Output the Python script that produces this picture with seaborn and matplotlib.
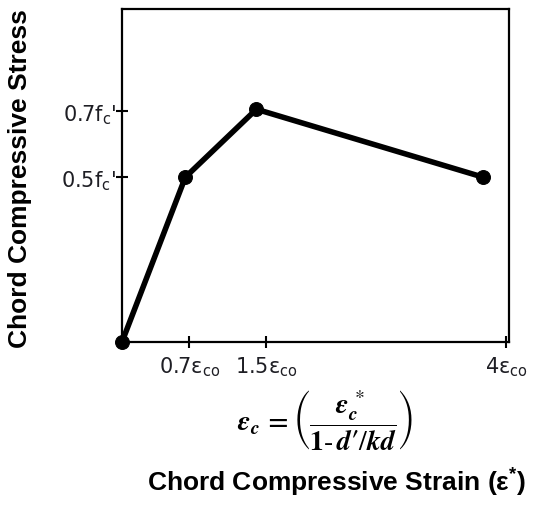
import matplotlib
matplotlib.use("Agg")
import matplotlib.pyplot as plt
import seaborn as sns
import pandas as pd

# Idealised chord stress-strain curve (strain in units of eps_co, stress in units of f'c)
strain = [0.0, 0.66, 1.40, 3.76]
stress = [0.0, 0.50, 0.706, 0.50]

x_ticks = [0.7, 1.5, 4.0]
x_tick_labels = [r"0.7ε$_{\rm co}$", r"1.5ε$_{\rm co}$", r"4ε$_{\rm co}$"]
y_ticks = [0.5, 0.7]
y_tick_labels = [r"0.5f$_{\rm c}$'", r"0.7f$_{\rm c}$'"]

sns.set_theme(style="white")
plt.rcParams["font.family"] = ["Liberation Sans", "DejaVu Sans"]
plt.rcParams["mathtext.fontset"] = "custom"
plt.rcParams["mathtext.rm"] = "Liberation Sans"
plt.rcParams["mathtext.it"] = "Liberation Sans:italic"
plt.rcParams["mathtext.bf"] = "Liberation Sans:bold"

df = pd.DataFrame({"strain": strain, "stress": stress})

fig = plt.figure(figsize=(5.39, 5.06), dpi=100)
ax = fig.add_axes([0.2263, 0.3221, 0.7180, 0.6581])

sns.lineplot(data=df, x="strain", y="stress", ax=ax, color="black",
             linewidth=4.0, marker="o", markersize=10,
             markeredgecolor="black", markerfacecolor="black", sort=False)

ax.set_xlim(0, 4.03)
ax.set_ylim(0, 1.01)

tick_font = dict(fontfamily="DejaVu Sans", math_fontfamily="dejavusans")
ax.set_xticks(x_ticks)
ax.set_xticklabels(x_tick_labels, **tick_font)
ax.set_yticks(y_ticks)
ax.set_yticklabels(y_tick_labels, **tick_font)
ax.tick_params(axis="both", direction="inout", length=8, width=1.5,
               color="black", labelsize=15, labelcolor="#1e1e24",
               bottom=True, left=True)
ax.tick_params(axis="x", pad=5)
ax.tick_params(axis="y", pad=0)

for sp in ax.spines.values():
    sp.set_visible(True)
    sp.set_color("black")
    sp.set_linewidth(1.6)
for line in ax.get_lines():
    line.set_clip_on(False)

ax.set_xlabel("")
ax.set_ylabel("")

fig.text(0.037, 0.648, "Chord Compressive Stress", rotation=90,
         ha="center", va="center", fontsize=19, fontweight="bold",
         color="black")

# Strain definition in terms of the measured chord strain
fig.text(0.604, 0.17,
         r"$\mathbfit{\varepsilon}_{\mathbfit{c}}\,\mathbf{=}\left(\dfrac{\mathbfit{\varepsilon}_{\mathbfit{c}}^{\,*}}{\mathbf{1}\mathbf{\text{-}}\,\mathbfit{d}\mathbf{\prime}/\mathbfit{kd}}\right)$",
         ha="center", va="center", fontsize=20, math_fontfamily="stix",
         color="black")

fig.text(0.624, 0.045, r"Chord Compressive Strain (ε$^{\mathbf{*}}$)",
         ha="center", va="center", fontsize=19, fontweight="bold",
         color="black")

fig.savefig("out.png", dpi=100)
